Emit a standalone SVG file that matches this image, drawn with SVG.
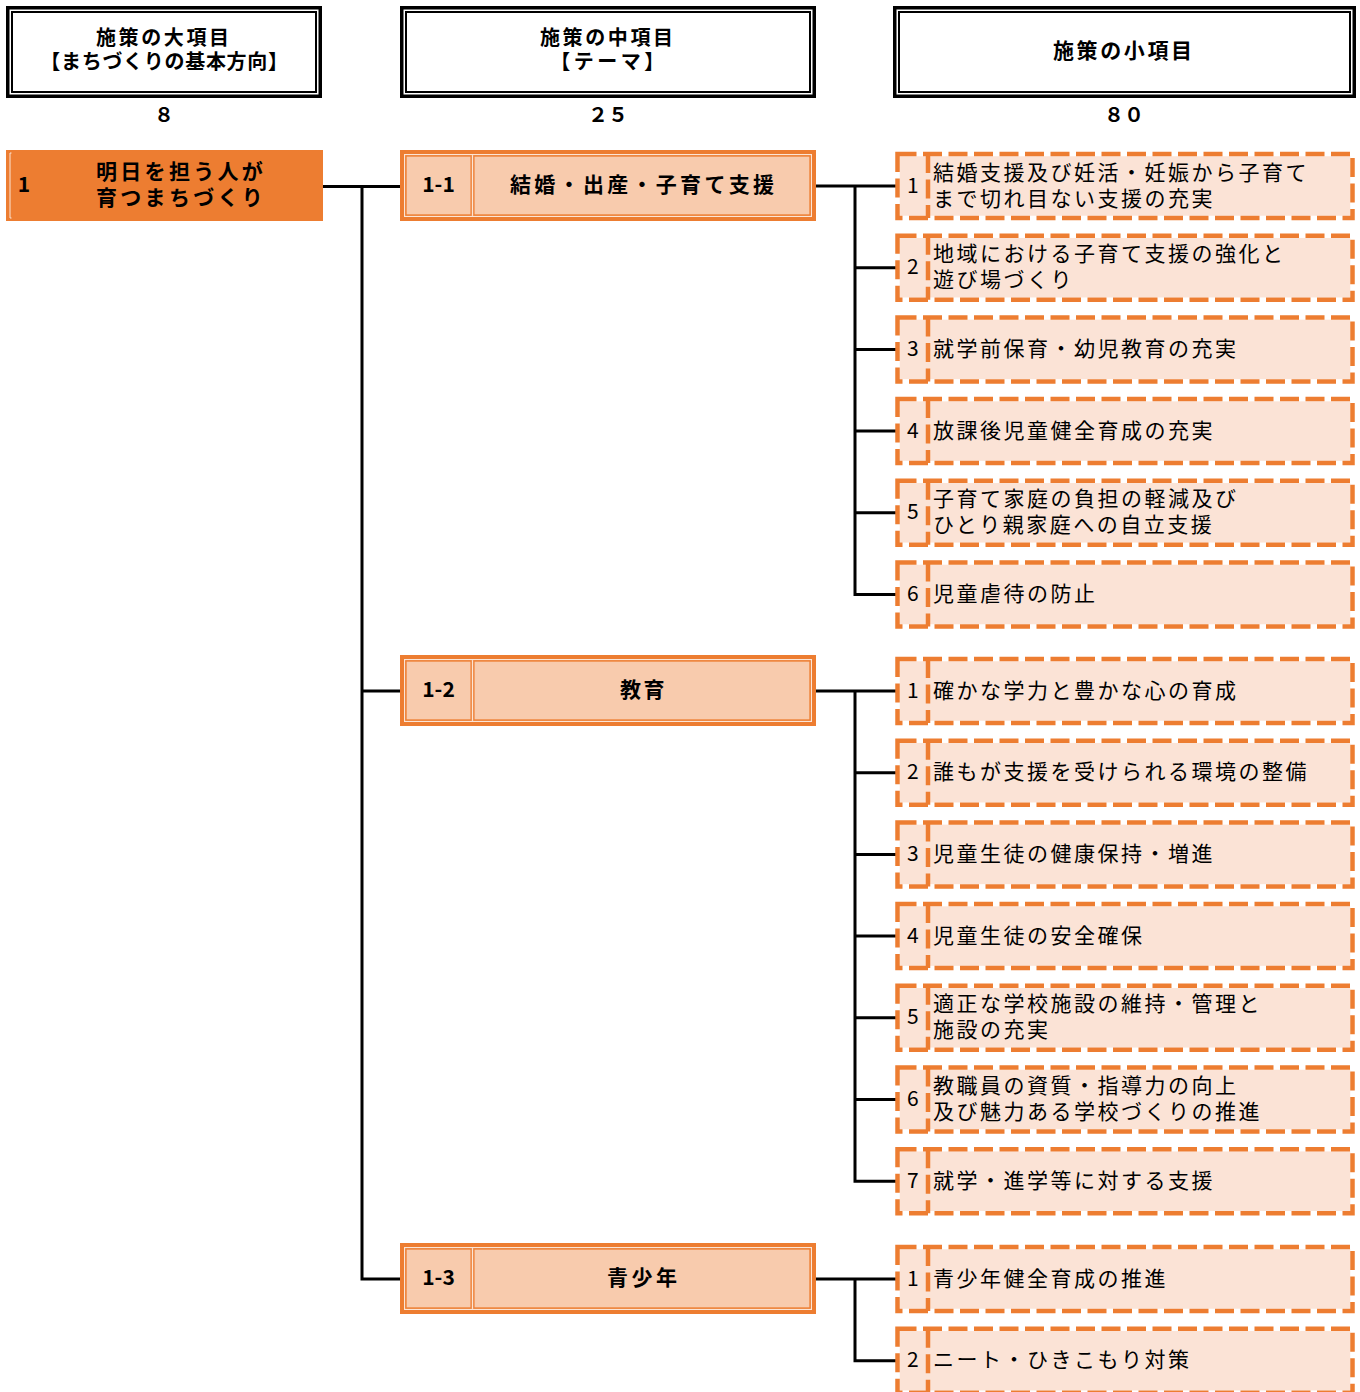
<svg xmlns="http://www.w3.org/2000/svg" width="1360" height="1392" viewBox="0 0 1360 1392">
<style>
.bg{fill:#ffffff}
.ho{fill:#ffffff;stroke:#000;stroke-width:3.5}
.hi{fill:none;stroke:#000;stroke-width:2}
.t{font-family:"Noto Sans CJK JP","Noto Sans",sans-serif;fill:#000;dominant-baseline:central;transform:translate(0px,-2.5px)}
.hd{font-size:20px;font-weight:bold}
.cnt{font-size:20px;font-weight:bold;text-anchor:middle}
.main{fill:#ED7D31}
.mt{font-size:21px;font-weight:bold;letter-spacing:3.3px}
.tf{fill:#F8CBAD;stroke:#ED7D31;stroke-width:4}
.tl{fill:none;stroke:#FBE5D6;stroke-width:1.2}
.tc{fill:none;stroke:#ED7D31;stroke-width:1.5}
.tt{font-size:21px;font-weight:bold}
.if{fill:#FBE3D6}
.il{fill:none;stroke:#ED7D31;stroke-width:4.5;stroke-dasharray:19 6.5}
.num{font-size:21px;text-anchor:middle}
.it{font-size:21px;letter-spacing:2.5px}
.conn{fill:none;stroke:#000;stroke-width:3}
</style>
<rect class="bg" x="0" y="0" width="1360" height="1392"/>

<g id="header-large">
<rect class="ho" x="7.75" y="7.75" width="312.5" height="88.5"/>
<rect class="hi" x="12" y="12" width="304" height="80"/>
<text class="t hd"><tspan x="96" y="38" style="letter-spacing:2.6px">施策の大項目</tspan><tspan x="164.5" y="62" text-anchor="middle" style="letter-spacing:0.7px">【まちづくりの基本方向】</tspan></text>
<text class="t cnt" x="164" y="116">８</text>
</g>
<g id="header-middle">
<rect class="ho" x="401.75" y="7.75" width="412.5" height="88.5"/>
<rect class="hi" x="406" y="12" width="404" height="80"/>
<text class="t hd"><tspan x="540" y="38" style="letter-spacing:2.6px">施策の中項目</tspan><tspan x="609" y="62" text-anchor="middle" style="letter-spacing:3.5px">【テーマ】</tspan></text>
<text class="t cnt" x="608" y="116">２５</text>
</g>
<g id="header-small">
<rect class="ho" x="894.75" y="7.75" width="459.5" height="88.5"/>
<rect class="hi" x="899" y="12" width="451" height="80"/>
<text class="t hd" x="1053" y="51" style="font-size:21px;letter-spacing:2.6px">施策の小項目</text>
<text class="t cnt" x="1124" y="116">８０</text>
</g>

<g id="connectors">
<path class="conn" d="M323 186.5 H400 M362 186.5 V1279 H400 M362 691 H400"/>
<path class="conn" d="M816 186 H896 M855 186 V594.5 H896 M855 267.7 H896 M855 349.4 H896 M855 431.1 H896 M855 512.8 H896"/>
<path class="conn" d="M816 691 H896 M855 691 V1181.2 H896 M855 772.7 H896 M855 854.4 H896 M855 936.1 H896 M855 1017.8 H896 M855 1099.5 H896"/>
<path class="conn" d="M816 1279 H896 M855 1279 V1360.7 H896"/>
</g>

<g id="main-1">
<rect class="main" x="6" y="150" width="317" height="71"/>
<path d="M11.5 153 H10 V218 H11.5" fill="none" stroke="#FBE5D6" stroke-width="1"/>
<text class="t" x="24" y="185" style="font-size:21px;font-weight:bold" text-anchor="middle">1</text>
<text class="t mt"><tspan x="96" y="172">明日を担う人が</tspan><tspan x="96" y="198">育つまちづくり</tspan></text>
</g>

<g id="theme-1-1">
<rect class="tf" x="402" y="152" width="412" height="67"/>
<rect class="tl" x="404.6" y="154.6" width="406.8" height="61.8"/>
<rect class="tc" x="405.9" y="155.9" width="65.3" height="59.2"/>
<rect class="tc" x="473.8" y="155.9" width="336.3" height="59.2"/>
<path d="M472.5 155.5 V215.5" stroke="#FBE5D6" stroke-width="1.3"/>
<text class="t tt" x="438.5" y="185.5" text-anchor="middle">1-1</text>
<text class="t tt" x="510" y="185.5" style="letter-spacing:3.3px">結婚・出産・子育て支援</text>
</g>
<g id="theme-1-2">
<rect class="tf" x="402" y="657" width="412" height="67"/>
<rect class="tl" x="404.6" y="659.6" width="406.8" height="61.8"/>
<rect class="tc" x="405.9" y="660.9" width="65.3" height="59.2"/>
<rect class="tc" x="473.8" y="660.9" width="336.3" height="59.2"/>
<path d="M472.5 660.5 V720.5" stroke="#FBE5D6" stroke-width="1.3"/>
<text class="t tt" x="438.5" y="690.5" text-anchor="middle">1-2</text>
<text class="t tt" x="620" y="690.5" style="letter-spacing:2.5px">教育</text>
</g>
<g id="theme-1-3">
<rect class="tf" x="402" y="1245" width="412" height="67"/>
<rect class="tl" x="404.6" y="1247.6" width="406.8" height="61.8"/>
<rect class="tc" x="405.9" y="1248.9" width="65.3" height="59.2"/>
<rect class="tc" x="473.8" y="1248.9" width="336.3" height="59.2"/>
<path d="M472.5 1248.5 V1308.5" stroke="#FBE5D6" stroke-width="1.3"/>
<text class="t tt" x="438.5" y="1278.5" text-anchor="middle">1-3</text>
<text class="t tt" x="607" y="1278.5" style="letter-spacing:3.5px">青少年</text>
</g>

<g id="item-1-1-1">
<rect class="if" x="899.75" y="156.25" width="450.5" height="59.5"/>
<rect class="il" x="897.5" y="154" width="455" height="64"/>
<path class="il" d="M928 154 V218"/>
<text class="t num" x="912.75" y="186">1</text>
<text class="t it"><tspan x="933" y="173">結婚支援及び妊活・妊娠から子育て</tspan><tspan x="933" y="199">まで切れ目ない支援の充実</tspan></text>
</g>
<g id="item-1-1-2">
<rect class="if" x="899.75" y="237.95" width="450.5" height="59.5"/>
<rect class="il" x="897.5" y="235.7" width="455" height="64"/>
<path class="il" d="M928 235.7 V299.7"/>
<text class="t num" x="912.75" y="267.7">2</text>
<text class="t it"><tspan x="933" y="254.7">地域における子育て支援の強化と</tspan><tspan x="933" y="280.7">遊び場づくり</tspan></text>
</g>
<g id="item-1-1-3">
<rect class="if" x="899.75" y="319.65" width="450.5" height="59.5"/>
<rect class="il" x="897.5" y="317.4" width="455" height="64"/>
<path class="il" d="M928 317.4 V381.4"/>
<text class="t num" x="912.75" y="349.4">3</text>
<text class="t it" x="933" y="349.4">就学前保育・幼児教育の充実</text>
</g>
<g id="item-1-1-4">
<rect class="if" x="899.75" y="401.35" width="450.5" height="59.5"/>
<rect class="il" x="897.5" y="399.1" width="455" height="64"/>
<path class="il" d="M928 399.1 V463.1"/>
<text class="t num" x="912.75" y="431.1">4</text>
<text class="t it" x="933" y="431.1">放課後児童健全育成の充実</text>
</g>
<g id="item-1-1-5">
<rect class="if" x="899.75" y="483.05" width="450.5" height="59.5"/>
<rect class="il" x="897.5" y="480.8" width="455" height="64"/>
<path class="il" d="M928 480.8 V544.8"/>
<text class="t num" x="912.75" y="512.8">5</text>
<text class="t it"><tspan x="933" y="499.8">子育て家庭の負担の軽減及び</tspan><tspan x="933" y="525.8">ひとり親家庭への自立支援</tspan></text>
</g>
<g id="item-1-1-6">
<rect class="if" x="899.75" y="564.75" width="450.5" height="59.5"/>
<rect class="il" x="897.5" y="562.5" width="455" height="64"/>
<path class="il" d="M928 562.5 V626.5"/>
<text class="t num" x="912.75" y="594.5">6</text>
<text class="t it" x="933" y="594.5">児童虐待の防止</text>
</g>

<g id="item-1-2-1">
<rect class="if" x="899.75" y="661.25" width="450.5" height="59.5"/>
<rect class="il" x="897.5" y="659" width="455" height="64"/>
<path class="il" d="M928 659 V723"/>
<text class="t num" x="912.75" y="691">1</text>
<text class="t it" x="933" y="691">確かな学力と豊かな心の育成</text>
</g>
<g id="item-1-2-2">
<rect class="if" x="899.75" y="742.95" width="450.5" height="59.5"/>
<rect class="il" x="897.5" y="740.7" width="455" height="64"/>
<path class="il" d="M928 740.7 V804.7"/>
<text class="t num" x="912.75" y="772.7">2</text>
<text class="t it" x="933" y="772.7">誰もが支援を受けられる環境の整備</text>
</g>
<g id="item-1-2-3">
<rect class="if" x="899.75" y="824.65" width="450.5" height="59.5"/>
<rect class="il" x="897.5" y="822.4" width="455" height="64"/>
<path class="il" d="M928 822.4 V886.4"/>
<text class="t num" x="912.75" y="854.4">3</text>
<text class="t it" x="933" y="854.4">児童生徒の健康保持・増進</text>
</g>
<g id="item-1-2-4">
<rect class="if" x="899.75" y="906.35" width="450.5" height="59.5"/>
<rect class="il" x="897.5" y="904.1" width="455" height="64"/>
<path class="il" d="M928 904.1 V968.1"/>
<text class="t num" x="912.75" y="936.1">4</text>
<text class="t it" x="933" y="936.1">児童生徒の安全確保</text>
</g>
<g id="item-1-2-5">
<rect class="if" x="899.75" y="988.05" width="450.5" height="59.5"/>
<rect class="il" x="897.5" y="985.8" width="455" height="64"/>
<path class="il" d="M928 985.8 V1049.8"/>
<text class="t num" x="912.75" y="1017.8">5</text>
<text class="t it"><tspan x="933" y="1004.8">適正な学校施設の維持・管理と</tspan><tspan x="933" y="1030.8">施設の充実</tspan></text>
</g>
<g id="item-1-2-6">
<rect class="if" x="899.75" y="1069.75" width="450.5" height="59.5"/>
<rect class="il" x="897.5" y="1067.5" width="455" height="64"/>
<path class="il" d="M928 1067.5 V1131.5"/>
<text class="t num" x="912.75" y="1099.5">6</text>
<text class="t it"><tspan x="933" y="1086.5">教職員の資質・指導力の向上</tspan><tspan x="933" y="1112.5">及び魅力ある学校づくりの推進</tspan></text>
</g>
<g id="item-1-2-7">
<rect class="if" x="899.75" y="1151.45" width="450.5" height="59.5"/>
<rect class="il" x="897.5" y="1149.2" width="455" height="64"/>
<path class="il" d="M928 1149.2 V1213.2"/>
<text class="t num" x="912.75" y="1181.2">7</text>
<text class="t it" x="933" y="1181.2">就学・進学等に対する支援</text>
</g>

<g id="item-1-3-1">
<rect class="if" x="899.75" y="1249.25" width="450.5" height="59.5"/>
<rect class="il" x="897.5" y="1247" width="455" height="64"/>
<path class="il" d="M928 1247 V1311"/>
<text class="t num" x="912.75" y="1279">1</text>
<text class="t it" x="933" y="1279">青少年健全育成の推進</text>
</g>
<g id="item-1-3-2">
<rect class="if" x="899.75" y="1330.95" width="450.5" height="59.5"/>
<rect class="il" x="897.5" y="1328.7" width="455" height="64"/>
<path class="il" d="M928 1328.7 V1392.7"/>
<text class="t num" x="912.75" y="1360.7">2</text>
<text class="t it" x="933" y="1360.7">ニート・ひきこもり対策</text>
</g>
</svg>
